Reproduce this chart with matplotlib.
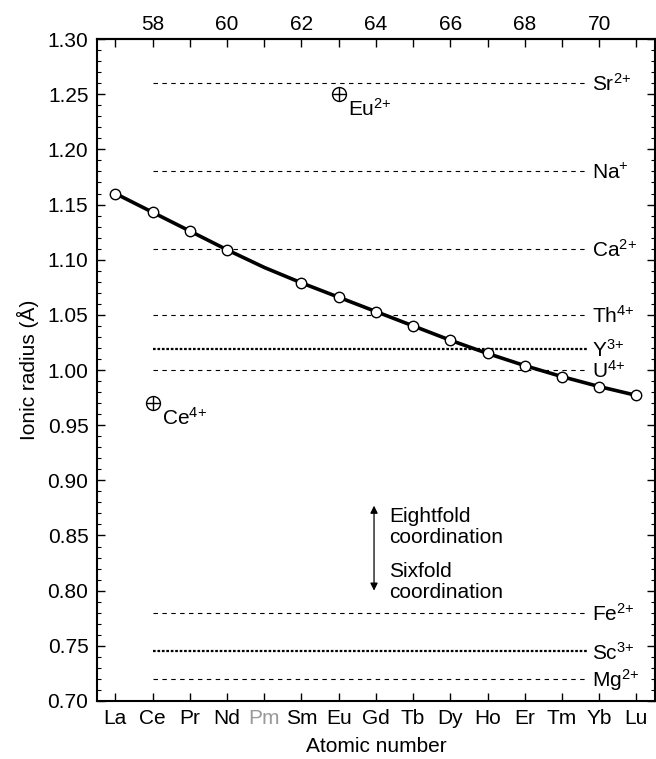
import numpy as np
import matplotlib.pyplot as plt

plt.rcParams['font.family'] = ['Liberation Sans', 'DejaVu Sans']
plt.rcParams['mathtext.fontset'] = 'custom'
plt.rcParams['mathtext.rm'] = 'Liberation Sans'
plt.rcParams['mathtext.it'] = 'Liberation Sans'

# REE eightfold ionic radii
elements = ["La", "Ce", "Pr", "Nd", "Pm", "Sm", "Eu", "Gd", "Tb", "Dy", "Ho", "Er", "Tm", "Yb", "Lu"]
z = np.arange(57, 72)
radius = [1.160, 1.143, 1.126, 1.109, 1.093, 1.079, 1.066, 1.053, 1.040, 1.027, 1.015, 1.004, 0.994, 0.985, 0.977]

# reference ions (horizontal lines)
ref_ions = ["Sr$^{2{+}}$", "Na$^{{+}}$", "Ca$^{2{+}}$", "Th$^{4{+}}$", "Y$^{3{+}}$", "U$^{4{+}}$",
            "Fe$^{2{+}}$", "Sc$^{3{+}}$", "Mg$^{2{+}}$"]
ref_radius = [1.26, 1.18, 1.11, 1.05, 1.019, 1.00, 0.78, 0.745, 0.72]
ref_dense = [False, False, False, False, True, False, False, True, False]

# anomalous valence states
odd_ions = ["Eu$^{2{+}}$", "Ce$^{4{+}}$"]
odd_z = [63, 58]
odd_radius = [1.25, 0.97]

fs = 15

fig = plt.figure(figsize=(6.56, 7.59), dpi=100)
ax = fig.add_axes([0.1475, 0.0765, 0.851, 0.872])

for name, r, dense in zip(ref_ions, ref_radius, ref_dense):
    if dense:
        ax.plot([58, 69.7], [r, r], color="black", lw=1.6, ls=(0, (1.2, 0.8)))
    else:
        ax.plot([58, 69.7], [r, r], color="black", lw=0.8, ls=(0, (4, 4)))
    ax.text(69.82, r - 0.001, name, fontsize=fs, va="center", ha="left")

ax.plot(z, radius, color="black", lw=2.6, zorder=3)
mask = np.array(elements) != "Pm"
ax.plot(z[mask], np.array(radius)[mask], ls="none", marker="o", ms=7.5,
        mfc="white", mec="black", mew=1.0, zorder=4)

for name, x, r in zip(odd_ions, odd_z, odd_radius):
    ax.plot(x, r, ls="none", marker="o", ms=10, mfc="none", mec="black", mew=1.0)
    ax.plot(x, r, ls="none", marker="+", ms=10, mec="black", mew=1.0)
    ax.text(x + 0.25, r - 0.003, name, fontsize=fs, va="top", ha="left")

# coordination arrow
ax.annotate("", xy=(63.95, 0.877), xytext=(63.95, 0.80),
            arrowprops=dict(arrowstyle="<|-|>", color="black", lw=0.9,
                            mutation_scale=11, shrinkA=0, shrinkB=0))
ax.text(64.35, 0.876, "Eightfold\ncoordination", fontsize=fs, va="top", ha="left", linespacing=1.12)
ax.text(64.35, 0.826, "Sixfold\ncoordination", fontsize=fs, va="top", ha="left", linespacing=1.12)

ax.set_xlim(56.5, 71.5)
ax.set_ylim(0.70, 1.30)
ax.set_xticks(z)
ax.set_xticklabels(elements)
for lab in ax.get_xticklabels():
    if lab.get_text() == "Pm":
        lab.set_color("#999999")
ax.set_yticks(np.arange(0.70, 1.301, 0.05))
ax.set_yticks(np.arange(0.70, 1.301, 0.01), minor=True)
ax.yaxis.set_major_formatter(plt.FormatStrFormatter("%.2f"))
ax.tick_params(axis="both", which="major", direction="in", length=6, width=1.0, labelsize=fs)
ax.tick_params(axis="y", which="minor", direction="in", length=3, width=0.8)
ax.tick_params(axis="y", which="both", right=True)
ax.tick_params(axis="x", pad=6)
ax.tick_params(axis="y", pad=6)

top = ax.secondary_xaxis("top")
top.set_xticks(z)
top.set_xticklabels([str(v) if v % 2 == 0 else "" for v in z])
top.tick_params(direction="in", length=6, width=1.0, labelsize=fs, pad=4)

for sp in ax.spines.values():
    sp.set_linewidth(1.5)
top.spines["top"].set_linewidth(1.5)

ax.set_xlabel("Atomic number", fontsize=fs, labelpad=6)
ax.set_ylabel("Ionic radius (Å)", fontsize=fs, labelpad=6)

fig.savefig("out.png", dpi=100)
